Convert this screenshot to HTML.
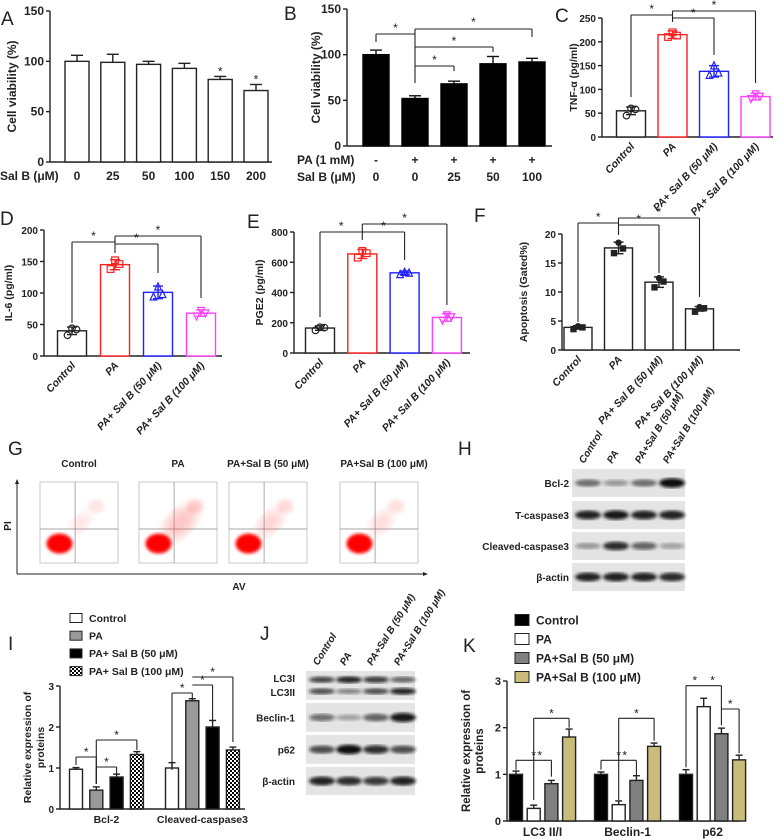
<!DOCTYPE html>
<html><head><meta charset="utf-8"><style>
html,body{margin:0;padding:0;background:#fff;}
svg{display:block;font-family:"Liberation Sans",Arial,sans-serif;}
</style></head><body>
<svg id="fig" width="784" height="840" viewBox="0 0 784 840" xmlns="http://www.w3.org/2000/svg">
<defs>
<pattern id="chk" width="4" height="4" patternUnits="userSpaceOnUse"><rect width="4" height="4" fill="#fff"/><rect width="2" height="2" fill="#000"/><rect x="2" y="2" width="2" height="2" fill="#000"/></pattern>
<filter id="blur1"><feGaussianBlur stdDeviation="1.6"/></filter>
<filter id="blur2"><feGaussianBlur stdDeviation="2.2"/></filter>
<filter id="blur3"><feGaussianBlur stdDeviation="5"/></filter>
</defs>
<g id="root"></g>
</svg>
<script>
// ---------- DATA ----------
const aCats=['0','25','50','100','150','200'];
const aVals=[100,99,97,93,82,71];
const aErr=[6,8,3,5,3,6];
const bPA=['-','+','+','+','+'];
const bSal=['0','0','25','50','100'];
const bVals=[100,52,68,90,92];
const bErr=[5,3,3,8,4];
const grpCats=['Control','PA','PA+ Sal B (50 \u03bcM)','PA+ Sal B (100 \u03bcM)'];
const cVals=[55,215,138,85];
const cErr=[8,8,12,7];
const cPts=[[45,60,58],[210,220,213],[130,150,135],[80,90,85]];
const dVals=[40,145,101,68];
const dErr=[6,8,10,5];
const dPts=[[33,44,42],[138,152,146],[94,110,98],[63,72,68]];
const eVals=[165,655,530,235];
const eErr=[15,30,12,25];
const ePts=[[150,170,168],[630,675,660],[520,535,530],[215,250,238]];
const fVals=[3.9,17.6,11.7,7.1];
const fErr=[0.3,1.0,0.9,0.4];
const fPts=[[3.6,4.1,3.9],[16.7,18.5,17.5],[10.8,12.4,11.8],[6.6,7.4,7.2]];
const iGroups=['Bcl-2','Cleaved-caspase3'];
const iSeries=['Control','PA','PA+ Sal B (50 \u03bcM)','PA+ Sal B (100 \u03bcM)'];
const iVals=[[0.97,0.46,0.78,1.33],[1.0,2.64,2.0,1.44]];
const iErr=[[0.04,0.08,0.07,0.07],[0.13,0.05,0.16,0.07]];
const kGroups=['LC3 II/I','Beclin-1','p62'];
const kSeries=['Control','PA','PA+Sal B (50 \u03bcM)','PA+Sal B (100 \u03bcM)'];
const kVals=[[1.0,0.27,0.8,1.8],[1.0,0.35,0.87,1.6],[1.0,2.45,1.87,1.31]];
const kErr=[[0.07,0.07,0.07,0.17],[0.05,0.08,0.1,0.07],[0.1,0.18,0.12,0.1]];
const hRows=['Bcl-2','T-caspase3','Cleaved-caspase3','\u03b2-actin'];
const hBands=[[0.55,0.35,0.55,1.0],[0.9,0.95,0.9,0.9],[0.35,0.85,0.6,0.3],[0.9,0.9,0.9,0.85]];
const jRows=['LC3I/II','Beclin-1','p62','\u03b2-actin'];
const jBands=[[0.75,0.9,0.8,0.6],[0.55,0.3,0.6,0.95],[0.7,1.0,0.85,0.7],[0.9,0.85,0.8,0.9]];
const jLC3II=[0.7,0.45,0.7,0.9];
const gTitles=['Control','PA','PA+Sal B (50 \u03bcM)','PA+Sal B (100 \u03bcM)'];
const gSpread=[0.2,0.7,0.45,0.35];

// ---------- HELPERS ----------
const NS='http://www.w3.org/2000/svg';
const root=document.getElementById('root');
function el(tag,attrs,parent){const e=document.createElementNS(NS,tag);for(const k in attrs)e.setAttribute(k,attrs[k]);(parent||root).appendChild(e);return e;}
function ln(x1,y1,x2,y2,p,w,c){return el('line',{x1,y1,x2,y2,stroke:c||'#222','stroke-width':w||1},p);}
function tx(x,y,s,size,p,extra){const e=el('text',Object.assign({x,y,'font-size':size||9,'font-weight':'bold',fill:'#222'},extra||{}),p);e.textContent=s;return e;}
function panelLetter(x,y,s){const t=tx(x,y,s,19,root,{'font-weight':'normal'});

}
function makeG(name){const g=el('g',{});

return g;}

function axes(g,o){
 const ys=v=>o.y0-v/o.max*(o.y0-o.yT);
 const ax=makeG(o.name+'-y-axis');g.appendChild(ax);
 ln(o.ax,o.y0,o.ax,o.yT,ax,1.4);
 o.ticks.forEach(t=>{const y=ys(t);ln(o.ax-4,y,o.ax,y,ax,1.4);tx(o.ax-6,y+4,String(t),o.tickSize||10,ax,{'text-anchor':'end'});});
 const xa=makeG(o.name+'-x-axis');g.appendChild(xa);
 ln(o.ax,o.y0,o.xEnd,o.y0,xa,1.4);
 const tt=tx(0,0,o.ytitle,o.titleSize||10.5,g,{'text-anchor':'middle',transform:`translate(${o.tx},${(o.y0+o.yT)/2}) rotate(-90)`});
 
 
 return ys;
}
function bar(g,x,w,y0,y,fill,stroke,name){const r=el('rect',{x:x-w/2,y:Math.min(y,y0),width:w,height:Math.abs(y0-y),fill,stroke,'stroke-width':1.4},g);

return r;}
function errbar(g,x,yv,ye,c,cap){ln(x,yv,x,ye,g,1.4,c);ln(x-cap,ye,x+cap,ye,g,1.4,c);}
function marker(g,shape,x,y,c,filled){const s=filled?2.6:3.3;const f=filled?c:'none';let e;
 if(shape==='o')e=el('circle',{cx:x,cy:y,r:s,fill:f,stroke:c,'stroke-width':1.2},g);
 else if(shape==='s')e=el('rect',{x:x-s,y:y-s,width:2*s,height:2*s,fill:f,stroke:c,'stroke-width':1.2},g);
 else if(shape==='^')e=el('polygon',{points:`${x},${y-s-0.5} ${x-s},${y+s} ${x+s},${y+s}`,fill:f,stroke:c,'stroke-width':1.2},g);
 else e=el('polygon',{points:`${x},${y+s+0.5} ${x-s},${y-s} ${x+s},${y-s}`,fill:f,stroke:c,'stroke-width':1.2},g);
 
 }
function star(g,x,y){const s=tx(x,y,'*',12,g,{'text-anchor':'middle','font-weight':'normal'});
 
 }
function bracket(g,x1,x2,y,y1e,y2e){ln(x1,y,x2,y,g,1.1);ln(x1,y,x1,y1e,g,1.1);ln(x2,y,x2,y2e,g,1.1);star(g,(x1+x2)/2,y-1);}

// ---------- PANEL A ----------
(function(){const g=makeG('panel-a-chart');
 const o={name:'panel-a',ax:50,y0:162,yT:11,max:150,ticks:[0,50,100,150],xEnd:272,ytitle:'Cell viability (%)',tx:16,tickSize:12,titleSize:12};
 const ys=axes(g,o);const c0=77,st=35.8;
 aVals.forEach((v,i)=>{const x=c0+i*st;errbar(g,x,ys(v),ys(v+aErr[i]),'#222',6);bar(g,x,24,o.y0,ys(v),'#fff','#222','bar-'+aCats[i]);
  tx(x,180,aCats[i],12,g,{'text-anchor':'middle'});
  if(i>=4) star(g,x,ys(v+aErr[i])-1);});
 tx(0,180,'Sal B (\u03bcM)',12,g);
})();
panelLetter(1,25,'A');

// ---------- PANEL B ----------
(function(){const g=makeG('panel-b-chart');
 const o={name:'panel-b',ax:347,y0:146,yT:9,max:150,ticks:[0,50,100,150],xEnd:552,ytitle:'Cell viability (%)',tx:320,tickSize:12,titleSize:12};
 const ys=axes(g,o);const c0=376,st=39;const X=i=>c0+i*st;
 bVals.forEach((v,i)=>{const x=X(i);errbar(g,x,ys(v),ys(v+bErr[i]),'#111',6);bar(g,x,26,o.y0,ys(v),'#000','#000','bar-'+i);
  tx(x,164,bPA[i],12,g,{'text-anchor':'middle'});tx(x,181,bSal[i],12,g,{'text-anchor':'middle'});});
 tx(297,164,'PA (1 mM)',12,g);tx(297,181,'Sal B (\u03bcM)',12,g);
 ln(X(0),34,X(1),34,g,1.1);ln(X(0),34,X(0),42,g,1.1);star(g,(X(0)+X(1))/2,32);
 ln(X(1),29,X(1),83,g,1.1);
 ln(X(1),29,X(4),29,g,1.1);ln(X(4),29,X(4),37,g,1.1);star(g,(X(1)+X(4))/2,26);
 ln(X(1),47,X(3),47,g,1.1);ln(X(3),47,X(3),52,g,1.1);star(g,(X(1)+X(3))/2,45);
 ln(X(1),66,X(2),66,g,1.1);ln(X(2),66,X(2),71,g,1.1);star(g,(X(1)+X(2))/2,64);
})();
panelLetter(284,20,'B');

// ---------- GENERIC 4-BAR SCATTER ----------
const colors4=['#222','#ff2020','#2020ff','#ff40ff'];
const shapes4=['o','s','^','v'];
function scatterBars(o,vals,errs,pts,filled){const g=makeG(o.name+'-chart');const ys=axes(g,o);
 const X=i=>o.c0+i*o.st;
 vals.forEach((v,i)=>{const x=X(i);const c=o.mono?'#222':colors4[i];
  bar(g,x,o.w,o.y0,ys(v),'#fff',c,'bar-'+grpCats[i].replace(/[^a-z0-9]+/gi,'-').toLowerCase());
  errbar(g,x,ys(v),ys(v+errs[i]),c,5);errbar(g,x,ys(v),ys(v-errs[i]),c,5);
  pts[i].forEach((p,k)=>marker(g,o.mono?(k%2?'o':'s'):shapes4[i],x+(k-1)*4.5,ys(p),c,filled));
  const t=tx(0,0,grpCats[i],10.5,g,{'text-anchor':'end','font-style':'italic',transform:`translate(${x+4},${o.y0+10}) rotate(-47)`});
  
  });
 return {g,ys,X};}

// ---------- PANEL C ----------
(function(){const o={name:'panel-c',ax:602,y0:137,yT:18,max:250,ticks:[0,50,100,150,200,250],xEnd:773,ytitle:'TNF-\u03b1 (pg/ml)',tx:577,c0:631,st:41.5,w:29,tickSize:10};
 const {g,ys,X}=scatterBars(o,cVals,cErr,cPts,false);
 ln(X(0),15,X(1),15,g,1.1);ln(X(0),15,X(0),97,g,1.1);ln(X(1),11,X(1),22,g,1.1);star(g,(X(0)+X(1))/2,13);
 ln(X(1),11,X(3),11,g,1.1);ln(X(3),11,X(3),83,g,1.1);star(g,(X(1)+X(3))/2,9);
 ln(X(1),18,X(2),18,g,1.1);ln(X(2),18,X(2),55,g,1.1);star(g,(X(1)+X(2))/2,17);
})();
panelLetter(555,22,'C');

// ---------- PANEL D ----------
(function(){const o={name:'panel-d',ax:44,y0:356,yT:230,max:200,ticks:[0,50,100,150,200],xEnd:222,ytitle:'IL-6 (pg/ml)',tx:12,c0:72,st:43,w:29};
 const {g,ys,X}=scatterBars(o,dVals,dErr,dPts,false);
 ln(X(0),242,X(1),242,g,1.1);ln(X(0),242,X(0),323,g,1.1);star(g,(X(0)+X(1))/2,240);
 ln(X(1),236,X(1),253,g,1.1);
 ln(X(1),236,X(3),236,g,1.1);ln(X(3),236,X(3),298,g,1.1);star(g,(X(1)+X(3))/2,234);
 ln(X(1),244,X(2),244,g,1.1);ln(X(2),244,X(2),273,g,1.1);star(g,(X(1)+X(2))/2,242);
})();
panelLetter(0,225,'D');

// ---------- PANEL E ----------
(function(){const o={name:'panel-e',ax:294,y0:353,yT:232,max:800,ticks:[0,200,400,600,800],xEnd:470,ytitle:'PGE2 (pg/ml)',tx:263,c0:320,st:42.3,w:29};
 const {g,ys,X}=scatterBars(o,eVals,eErr,ePts,false);
 ln(X(0),232,X(1),232,g,1.1);ln(X(0),232,X(0),317,g,1.1);star(g,(X(0)+X(1))/2,230);
 ln(X(1),224,X(1),240,g,1.1);
 ln(X(1),224,X(3),224,g,1.1);ln(X(3),224,X(3),305,g,1.1);star(g,(X(1)+X(3))/2,222);
 ln(X(1),232,X(2),232,g,1.1);ln(X(2),232,X(2),260,g,1.1);star(g,(X(1)+X(2))/2,230);
})();
panelLetter(247,228,'E');

// ---------- PANEL F ----------
(function(){const o={name:'panel-f',ax:562,y0:350,yT:234,max:20,ticks:[0,5,10,15,20],xEnd:740,ytitle:'Apoptosis (Gated%)',tx:527,c0:578,st:40.5,w:28,mono:true};
 const {g,ys,X}=scatterBars(o,fVals,fErr,fPts,true);
 ln(X(0),223,X(1),223,g,1.1);ln(X(0),223,X(0),322,g,1.1);star(g,(X(0)+X(1))/2,221);
 ln(X(1),218,X(1),235,g,1.1);
 ln(X(1),218,X(3),218,g,1.1);ln(X(3),218,X(3),297,g,1.1);star(g,(X(1)+X(3))/2,216);
 ln(X(1),225,X(2),225,g,1.1);ln(X(2),225,X(2),273,g,1.1);star(g,(X(1)+X(2))/2,223);
})();
panelLetter(474,222,'F');

// ---------- PANEL G (flow) ----------
(function(){const g=makeG('panel-g-flow');
 ln(17,482,17,574,g,1);ln(17,574,425,574,g,1);
 el('polygon',{points:'17,479 15,484 19,484',fill:'#222'},g);el('polygon',{points:'428,574 423,572 423,576',fill:'#222'},g);
 const bx=[40,139,229,340];
 gTitles.forEach((t,i)=>{const x=bx[i],w=78,y=482,h=81;
  const p=makeG('flow-plot-'+i);g.appendChild(p);
  el('rect',{x,y,width:w,height:h,fill:'#fff',stroke:'#bbb','stroke-width':0.8},p);
  ln(x+w*0.45,y,x+w*0.45,y+h,p,0.7,'#888');ln(x,y+h*0.58,x+w,y+h*0.58,p,0.7,'#888');
  el('ellipse',{cx:x+w*0.53,cy:y+h*0.5,rx:8+gSpread[i]*16,ry:5+gSpread[i]*10,fill:'#f55',opacity:0.12+gSpread[i]*0.3,filter:'url(#blur3)',transform:`rotate(-45 ${x+w*0.53} ${y+h*0.5})`},p);
  el('ellipse',{cx:x+w*0.72,cy:y+h*0.3,rx:8,ry:7,fill:'#f66',opacity:0.1+gSpread[i]*0.3,filter:'url(#blur2)'},p);
  el('ellipse',{cx:x+w*0.25,cy:y+h*0.76,rx:13,ry:10,fill:'#f00',filter:'url(#blur1)'},p);
  tx(x+w/2+(i===3?5:0),467,t,10,g,{'text-anchor':'middle'});});
 tx(0,0,'PI',10,g,{'text-anchor':'middle',transform:'translate(11,526) rotate(-90)'});
 tx(239,590,'AV',10,g,{'text-anchor':'middle'});
})();
panelLetter(8,455,'G');

// ---------- BLOTS ----------
function blot(name,x0,wid,rows,ys,hs,bands,labelX,step,extra){const g=makeG(name);
 rows.forEach((r,ri)=>{const y=ys[ri],h=hs[ri];
  el('rect',{x:x0,y,width:wid,height:h,fill:'#e4e4e4'},g);
  bands[ri].forEach((b,k)=>{const cx=x0+16+k*step;
   const b2=el('ellipse',{cx,cy:extra&&ri===0?y+h*0.3:y+h/2,rx:13,ry:extra&&ri===0?2+b*1.5:2.5+b*2.2,fill:'#111',opacity:b,filter:'url(#blur1)'},g);
   
   
   if(extra&&ri===0){el('ellipse',{cx,cy:y+h*0.7,rx:13,ry:2+extra[k]*1.5,fill:'#111',opacity:extra[k],filter:'url(#blur1)'},g);}});
  if(extra&&ri===0){tx(labelX,y+11,'LC3I',10,g,{'text-anchor':'end'});tx(labelX,y+25,'LC3II',10,g,{'text-anchor':'end'});}
  else tx(labelX,y+h/2+4,r,10,g,{'text-anchor':'end'});});
 ['Control','PA','PA+Sal B (50 \u03bcM)','PA+Sal B (100 \u03bcM)'].forEach((c,k)=>{
  tx(0,0,c,10,g,{'text-anchor':'start','font-style':'italic',transform:`translate(${x0+12+k*step},${ys[0]-5}) rotate(-58)`});});
}
blot('panel-h-blot',572,113,hRows,[469,501,532,563],[28,28,28,28],hBands,569,28);
panelLetter(458,455,'H');
blot('panel-j-blot',306,109,jRows,[671,703,735,767],[29,29,29,28],jBands,295,27,jLC3II);
panelLetter(260,640,'J');

// ---------- GROUPED BARS ----------
function grouped(o,groups,series,vals,errs,fills){const g=makeG(o.name+'-chart');const ys=axes(g,o);
 const X=(gi,si)=>o.c0+gi*o.gs+si*o.bs;
 groups.forEach((gn,gi)=>{series.forEach((s,si)=>{const v=vals[gi][si],x=X(gi,si);
  errbar(g,x,ys(v),ys(v+errs[gi][si]),'#222',3.5);
  bar(g,x,o.w,o.y0,ys(v),fills[si],'#222','bar-'+gn+'-'+si);});
  tx(X(gi,1.5),o.y0+o.glOff,gn,o.glSize,g,{'text-anchor':'middle'});});
 series.forEach((s,si)=>{const y=o.ly+si*o.lstep;const r=el('rect',{x:o.lx,y:y-o.lsz/2,width:o.lsz+3,height:o.lsz,fill:fills[si],stroke:'#222','stroke-width':1},g);
  
  
  tx(o.lx+o.lsz+10,y+o.lfs*0.36,s,o.lfs,g);});
 return {g,ys,X};}

(function(){const o={name:'panel-i',ax:60,y0:809,yT:686,max:3,ticks:[0,1,2,3],xEnd:245,ytitle:'Relative expression of',tx:31,c0:76,gs:96,bs:20.3,w:13,lx:70,ly:618,lstep:17.7,lsz:9,lfs:10.5,tickSize:10,glSize:10.5,glOff:14};
 const {g,ys,X}=grouped(o,iGroups,iSeries,iVals,iErr,['#fff','#999','#000','url(#chk)']);
 tx(0,0,'proteins',10.5,g,{'text-anchor':'middle',transform:`translate(44,${(o.y0+o.yT)/2}) rotate(-90)`});
 bracket(g,X(0,0),X(0,1),757,765,784);
 bracket(g,X(0,1),X(0,3),740,784,750);
 bracket(g,X(0,1),X(0,2),767,784,775);
 bracket(g,X(1,0),X(1,1),693,770,698);
 bracket(g,X(1,1),X(1,2),685,685,720);
 bracket(g,X(1,1),X(1,3),677,677,742);
})();
panelLetter(8,650,'I');

(function(){const o={name:'panel-k',ax:507,y0:821,yT:681,max:3,ticks:[0,1,2,3],xEnd:740,ytitle:'Relative expression of',tx:470,c0:516,gs:85,bs:17.7,w:13,lx:515,ly:620,lstep:19,lsz:11,lfs:12,glSize:12,glOff:15,tickSize:11,titleSize:11.5};
 const {g,ys,X}=grouped(o,kGroups,kSeries,kVals,kErr,['#000','#fff','#808080','#c9bb7a']);
 tx(0,0,'proteins',11.5,g,{'text-anchor':'middle',transform:`translate(483,${(o.y0+o.yT)/2}) rotate(-90)`});
 [0,1].forEach(gi=>{
  bracket(g,X(gi,0),X(gi,2),ys(1.3),ys(1.1),ys(0.95));
  star(g,X(gi,1)+6,ys(1.3)-1);
  bracket(g,X(gi,1),X(gi,3),ys(2.2),ys(0.45),ys(gi?1.72:2.0));});
 bracket(g,X(2,0),X(2,1),ys(2.9),ys(1.15),ys(2.9));
 bracket(g,X(2,1),X(2,2),ys(2.9),ys(2.9),ys(2.05));
 bracket(g,X(2,2),X(2,3),ys(2.4),ys(2.4),ys(1.45));
})();
panelLetter(463,652,'K');
</script>
</body></html>
